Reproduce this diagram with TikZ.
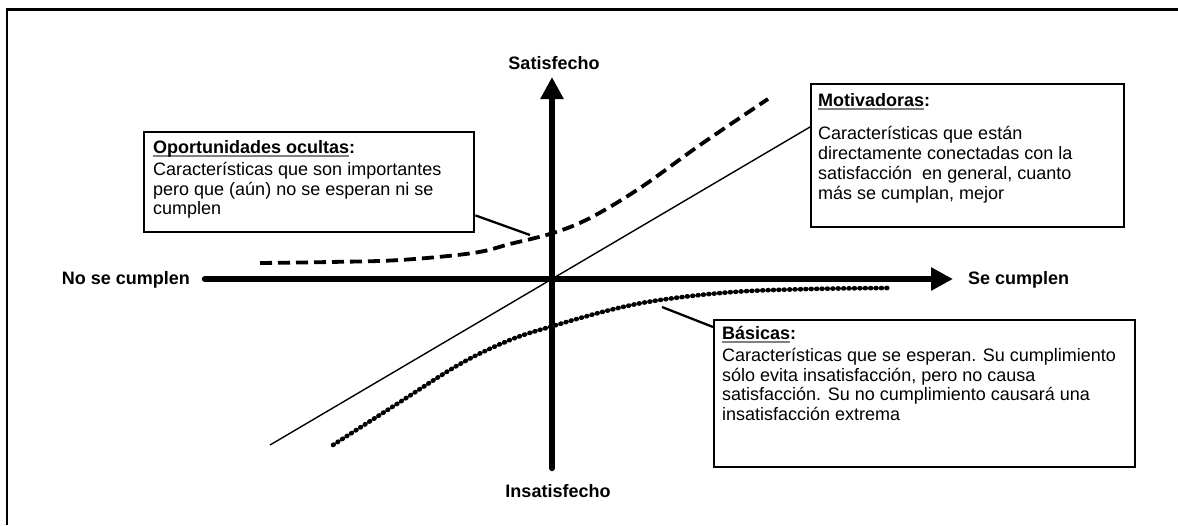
\documentclass[tikz,border=0pt]{standalone}
\usepackage{fontspec}
\setmainfont{Liberation Sans}
\usetikzlibrary{arrows.meta}

% underlined heading word(s), grey rule under the text
\newcommand\headul[1]{\setbox0\hbox{#1}\rlap{\color{black!50}\rule[-3.6pt]{\wd0}{1.6pt}}\box0}
% keeps the first line of a text block at a fixed height
\newcommand\firstline{\rule{0pt}{14pt}}

\begin{document}
\begin{tikzpicture}[x=1pt,y=-1pt,
  frame/.style={line width=2.5pt},
  axisline/.style={line width=6.5pt, line cap=round, -{Triangle[length=22pt,width=22pt]}},
  axislabel/.style={font=\fontsize{18}{20}\selectfont\bfseries, inner sep=0pt},
  diagline/.style={line width=1.4pt},
  dashcurve/.style={line width=3.8pt, dash pattern=on 12pt off 6pt},
  dotcurve/.style={line width=4.6pt, line cap=round, dash pattern=on 0.8pt off 4.6pt},
  leader/.style={line width=2.3pt},
  textbox/.style={draw, line width=2.4pt, anchor=north west, inner sep=0pt},
  boxhead/.style={font=\fontsize{18}{20}\selectfont\bfseries, anchor=base west, inner sep=0pt},
  boxbody/.style={font=\fontsize{18}{19.8}\selectfont, anchor=north west, inner sep=0pt, align=left}
]
\useasboundingbox (0,0) rectangle (1178,525);

% outer frame
\draw[frame] (7,525) -- (7,9.5) -- (1178,9.5);

% axes
\coordinate (hL) at (205,279);
\coordinate (hR) at (953,279);
\coordinate (vB) at (552,468);
\coordinate (vT) at (552,77);
\draw[axisline] (hL) -- (hR);
\draw[axisline] (vB) -- (vT);

\node[axislabel, anchor=base] (sat) at (554,69) {Satisfecho};
\node[axislabel, anchor=base] (insat) at (558,497) {Insatisfecho};
\node[axislabel, anchor=base east] (nosc) at (190,284) {No se cumplen};
\node[axislabel, anchor=base west] (sc) at (968,284) {Se cumplen};

% text boxes
\node[textbox, minimum width=330pt, minimum height=100pt] (opo) at (143,131) {};
\node[textbox, minimum width=313pt, minimum height=143pt] (mot) at (810,83) {};
\node[textbox, minimum width=421pt, minimum height=147pt] (bas) at (713,319) {};

\node[boxhead] (opoH) at (153,153) {\headul{Oportunidades ocultas}:};
\node[boxbody] (opoB) at (153,161) {\firstline Características que son importantes\\pero que (aún) no se esperan ni se\\cumplen};

\node[boxhead] (motH) at (818,106) {\headul{Motivadoras}:};
\node[boxbody] (motB) at (818,125.5) {\firstline Características que están\\directamente conectadas con la\\satisfacción~ en general, cuanto\\más se cumplan, mejor};

\node[boxhead] (basH) at (722,339) {\headul{Básicas}:};
\node[boxbody] (basB) at (722,347) {\firstline Características que se esperan. Su cumplimiento\\sólo evita insatisfacción, pero no causa\\satisfacción. Su no cumplimiento causará una\\insatisfacción extrema};

% proportional line (motivadoras)
\coordinate (dA) at (270,445);
\draw[diagline] (dA) -- ([yshift=-44pt]mot.north west);

% hidden opportunities curve
\draw[dashcurve] plot[smooth, tension=0.6] coordinates {(260,263) (330,262) (400,260) (473,253) (510,244) (553,233) (590,218) (640,188) (700,145) (768,99)};

% basic needs curve
\draw[dotcurve] plot[smooth, tension=0.6] coordinates {(333,445) (400,402) (460,364) (510,340) (553,326) (610,310) (660,300) (733,292) (810,289) (888,288)};

% leaders from the boxes to the curves
\coordinate (opoTouch) at (530,235);
\coordinate (basTouch) at (662,307);
\draw[leader] ([yshift=18pt]opo.south east) -- (opoTouch);
\draw[leader] (basTouch) -- ([yshift=-8pt]bas.north west);
\end{tikzpicture}
\end{document}
